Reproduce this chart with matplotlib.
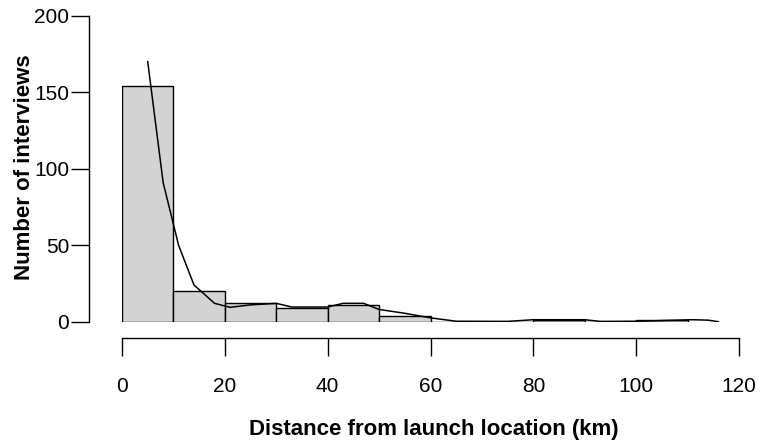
import matplotlib
matplotlib.use("Agg")
import matplotlib.pyplot as plt
import numpy as np

plt.rcParams['font.family'] = ['Liberation Sans', 'DejaVu Sans']

# Histogram data (10 km bins)
bin_edges = [0, 10, 20, 30, 40, 50, 60, 70, 80, 90, 100, 110]
counts = [154, 20, 12, 9, 11, 4, 0, 0, 1, 0, 1]

# Smoothed curve
curve_x = [5, 8, 11, 14, 18, 21, 25, 30, 33, 40, 43, 47, 50, 55, 60, 65,
           75, 80, 90, 93, 100, 111, 114, 116]
curve_y = [170, 91, 50, 24, 12, 9.4, 11, 12, 9.6, 9.6, 12, 12, 8, 5.5, 2.5, 0.3,
           0.2, 1.3, 1.3, 0.2, 0.3, 1.3, 1.0, 0]

x_ticks = [0, 20, 40, 60, 80, 100, 120]
y_ticks = [0, 50, 100, 150, 200]
x_label = "Distance from launch location (km)"
y_label = "Number of interviews"

W, H = 766, 440
fig = plt.figure(figsize=(W / 100, H / 100), dpi=100)
ax = fig.add_axes([122 / W, (H - 321.7) / H, (739 - 122) / W, (321.7 - 15.7) / H])

lefts = bin_edges[:-1]
widths = [b - a for a, b in zip(bin_edges[:-1], bin_edges[1:])]
ax.bar(lefts, counts, width=widths, align='edge', color='#d3d3d3',
       edgecolor='black', linewidth=1.0)
ax.plot(curve_x, curve_y, color='black', linewidth=1.1)

ax.set_xlim(0, 120)
ax.set_ylim(0, 200)
ax.set_xticks(x_ticks)
ax.set_yticks(y_ticks)
ax.set_xticklabels([str(t) for t in x_ticks])
ax.set_yticklabels([str(t) for t in y_ticks])

for s in ['top', 'right']:
    ax.spines[s].set_visible(False)
ax.spines['left'].set_position(('outward', 24))
ax.spines['bottom'].set_position(('outward', 11.5))
for s in ['left', 'bottom']:
    ax.spines[s].set_linewidth(1.0)

ax.tick_params(axis='both', direction='out', length=13, width=1.0,
               labelsize=15, colors='black')
ax.tick_params(axis='x', pad=15)
ax.tick_params(axis='y', pad=1)

fig.text(434 / W, (H - 435) / H, x_label, ha='center', va='baseline',
         fontsize=16, fontweight='bold')
fig.text(25 / W, (H - 167.5) / H, y_label, ha='center', va='center',
         rotation=90, fontsize=16, fontweight='bold')

fig.savefig("out.png", dpi=100)
